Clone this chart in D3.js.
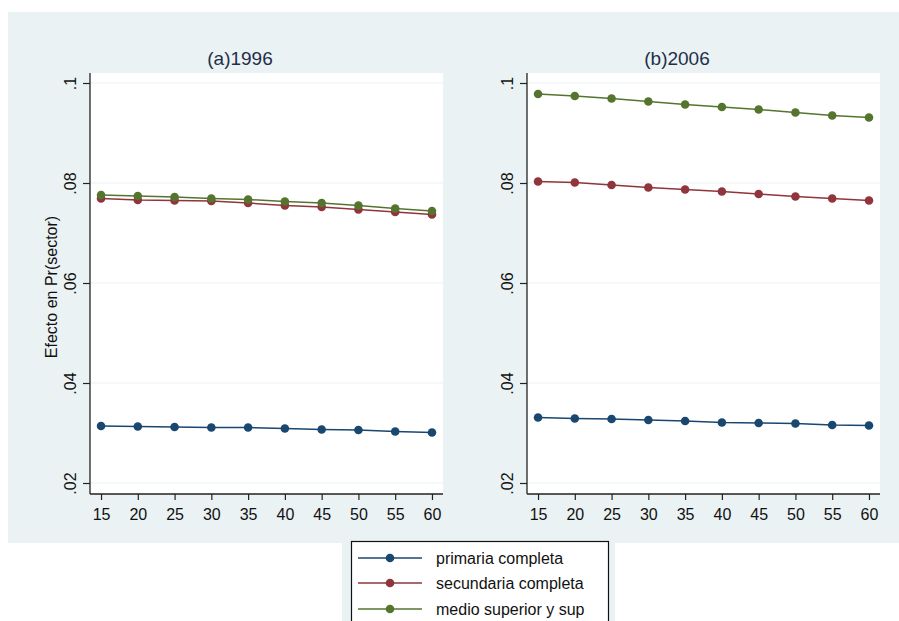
<!DOCTYPE html>
<html>
<head>
<meta charset="utf-8">
<script src="https://cdn.jsdelivr.net/npm/d3@7"></script>
<style>
  html, body { margin: 0; padding: 0; background: #ffffff; }
  svg { display: block; }
  text { font-family: Arial, "Liberation Sans", sans-serif; }
</style>
</head>
<body>
<svg id="chart" width="899" height="621"></svg>
<script>
// ---- data ----
const ages = [15, 20, 25, 30, 35, 40, 45, 50, 55, 60];
const seriesNames = ["primaria completa", "secundaria completa", "medio superior y sup"];
const panelTitles = ["(a)1996", "(b)2006"];
const yTicks = [0.02, 0.04, 0.06, 0.08, 0.1];
const yTickLabels = [".02", ".04", ".06", ".08", ".1"];
const xTickLabels = ["15", "20", "25", "30", "35", "40", "45", "50", "55", "60"];

const primaria1996 = [0.0314, 0.0313, 0.0312, 0.0311, 0.0311, 0.0309, 0.0307, 0.0306, 0.0303, 0.0301];
const secundaria1996 = [0.0769, 0.0766, 0.0765, 0.0764, 0.0760, 0.0755, 0.0752, 0.0747, 0.0742, 0.0737];
const medio1996 = [0.0776, 0.0774, 0.0772, 0.0769, 0.0767, 0.0763, 0.0760, 0.0755, 0.0749, 0.0744];

const primaria2006 = [0.0331, 0.0329, 0.0328, 0.0326, 0.0324, 0.0321, 0.0320, 0.0319, 0.0316, 0.0315];
const secundaria2006 = [0.0803, 0.0801, 0.0796, 0.0791, 0.0787, 0.0783, 0.0778, 0.0773, 0.0769, 0.0765];
const medio2006 = [0.0978, 0.0974, 0.0969, 0.0963, 0.0957, 0.0952, 0.0947, 0.0941, 0.0935, 0.0931];

const colors = ["#1a476f", "#90353b", "#55752f"];
const panelsData = [
  [primaria1996, secundaria1996, medio1996],
  [primaria2006, secundaria2006, medio2006]
];

// ---- layout ----
const svg = d3.select("#chart");
const bg = "#eaf2f3";

svg.append("rect").attr("x", 8).attr("y", 12).attr("width", 891).attr("height", 531).attr("fill", bg);
svg.append("rect").attr("x", 342).attr("y", 540).attr("width", 273).attr("height", 81).attr("fill", bg);

const panels = [
  { left: 90, right: 443, titleX: 240 },
  { left: 527, right: 880, titleX: 677 }
];
const plotTop = 73, plotBottom = 494;

panels.forEach((p, i) => {
  const x = d3.scaleLinear().domain([13.5, 61.5]).range([p.left, p.right]);
  const y = d3.scaleLinear().domain([0.02, 0.1]).range([483, 83]);

  const g = svg.append("g");
  g.append("rect").attr("x", p.left).attr("y", plotTop)
    .attr("width", p.right - p.left).attr("height", plotBottom - plotTop).attr("fill", "#ffffff");

  // gridlines
  g.selectAll("line.grid").data(yTicks).enter().append("line")
    .attr("x1", p.left).attr("x2", p.right)
    .attr("y1", d => y(d)).attr("y2", d => y(d))
    .attr("stroke", bg).attr("stroke-width", 1.2);

  // y axis
  const yAxis = d3.axisLeft(y).tickValues(yTicks)
    .tickFormat((d, k) => yTickLabels[k]).tickSize(7).tickPadding(4);
  const ya = g.append("g").attr("transform", `translate(${p.left},0)`).call(yAxis);
  ya.select(".domain").attr("d", `M0,${plotTop}V${plotBottom}`).attr("stroke", "#222").attr("stroke-width", 1.3);
  ya.selectAll(".tick line").attr("stroke", "#222").attr("stroke-width", 1.2);
  ya.selectAll(".tick text")
    .attr("x", 0).attr("y", 0).attr("dy", 0)
    .attr("transform", "translate(-14,0) rotate(-90)")
    .attr("text-anchor", "middle")
    .attr("font-size", 16).attr("fill", "#111");

  // x axis
  const xAxis = d3.axisBottom(x).tickValues(ages)
    .tickFormat((d, k) => xTickLabels[k]).tickSize(6).tickPadding(9);
  const xa = g.append("g").attr("transform", `translate(0,${plotBottom})`).call(xAxis);
  xa.select(".domain").attr("d", `M${p.left},0H${p.right}`).attr("stroke", "#222").attr("stroke-width", 1.3);
  xa.selectAll(".tick line").attr("stroke", "#222").attr("stroke-width", 1.2);
  xa.selectAll(".tick text").attr("font-size", 16).attr("fill", "#111");

  // title
  svg.append("text").attr("x", p.titleX).attr("y", 65)
    .attr("text-anchor", "middle").attr("font-size", 19).attr("fill", "#1f2f4a")
    .text(panelTitles[i]);

  // series
  const line = d3.line().x((d, k) => x(ages[k])).y(d => y(d));
  panelsData[i].forEach((vals, s) => {
    g.append("path").datum(vals).attr("d", line)
      .attr("fill", "none").attr("stroke", colors[s]).attr("stroke-width", 1.5);
    g.selectAll(null).data(vals).enter().append("circle")
      .attr("cx", (d, k) => x(ages[k])).attr("cy", d => y(d))
      .attr("r", 4.3).attr("fill", colors[s]);
  });
});

// y axis title
svg.append("text")
  .attr("transform", "translate(57,287) rotate(-90)")
  .attr("text-anchor", "middle").attr("font-size", 16).attr("fill", "#111")
  .text("Efecto en Pr(sector)");

// legend
svg.append("rect").attr("x", 351.5).attr("y", 541.5).attr("width", 257).attr("height", 90)
  .attr("fill", "#ffffff").attr("stroke", "#111").attr("stroke-width", 1.2);
const rowsY = [558, 583, 609];
seriesNames.forEach((name, s) => {
  const ly = rowsY[s];
  svg.append("line").attr("x1", 358).attr("x2", 422).attr("y1", ly).attr("y2", ly)
    .attr("stroke", colors[s]).attr("stroke-width", 1.5);
  svg.append("circle").attr("cx", 390).attr("cy", ly).attr("r", 4.3).attr("fill", colors[s]);
  svg.append("text").attr("x", 436).attr("y", ly + 5.5).attr("font-size", 16).attr("fill", "#111")
    .text(name);
});
</script>
</body>
</html>
